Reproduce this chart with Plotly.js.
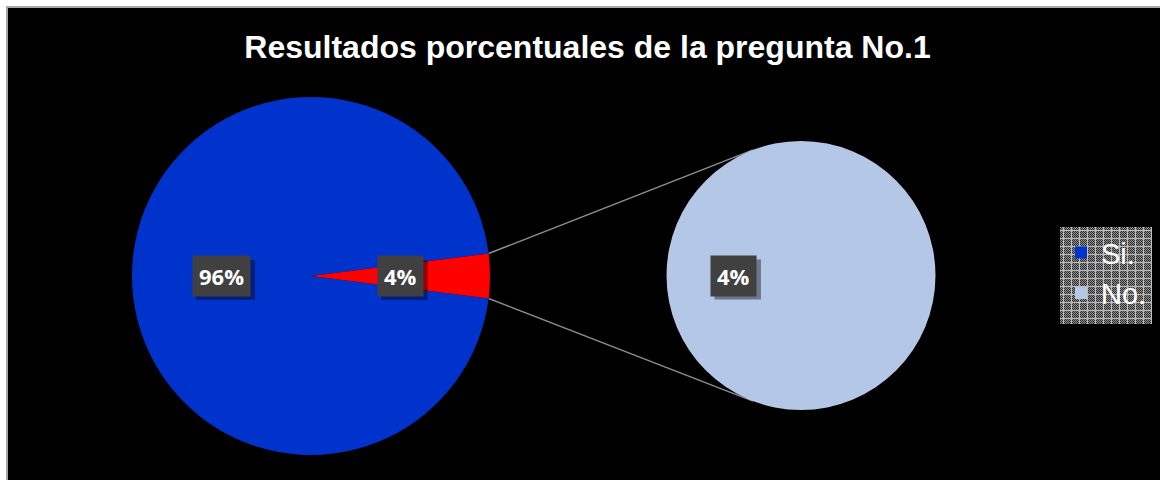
<!DOCTYPE html>
<html>
<head>
<meta charset="utf-8">
<script src="https://cdn.plot.ly/plotly-3.0.1.min.js"></script>
<style>
  html, body { margin: 0; padding: 0; background: #ffffff; }
  #frame { position: absolute; left: 6px; top: 6px; border-left: 2px solid #a6a6a6; border-top: 2px solid #a6a6a6; }
  #chart { width: 1152px; height: 472px; }
</style>
</head>
<body>
<div id="frame"><div id="chart"></div></div>
<script>
// ---- data ----
const categories = ['Si.', 'No.'];
const values = [96, 4];
const secondaryLabels = ['No.'];
const secondaryValues = [4];
const chartTitle = 'Resultados porcentuales de la pregunta No.1';

// ---- geometry (px inside the plot div) ----
const W = 1152, H = 472;
const mainPie = { cx: 303, cy: 268, r: 179 };
const secPie = { cx: 793, cy: 267.5, r: 134.5 };
const colors = ['#0033cc', '#ff0000'];
const secColor = '#b4c7e7';

function domainOf(p) {
  return { x: [(p.cx - p.r) / W, (p.cx + p.r) / W], y: [(H - p.cy - p.r) / H, (H - p.cy + p.r) / H] };
}
const px = x => x / W;
const py = y => (H - y) / H;
function pt(p, angDeg, frac) {
  const a = angDeg * Math.PI / 180;
  return [p.cx + frac * p.r * Math.sin(a), p.cy - frac * p.r * Math.cos(a)];
}

const total = values.reduce((a, b) => a + b, 0);
// centre the split slice ("No.") on 3 o'clock
const splitShare = values[1] / total;
const rotation = 90 + 180 * splitShare;

const sliceAngles = [];
let cum = 0;
values.forEach(v => {
  const a0 = rotation + 360 * cum / total;
  cum += v;
  const a1 = rotation + 360 * cum / total;
  sliceAngles.push([a0, a1, (a0 + a1) / 2]);
});

// secondary pie first so that the legend swatch of "No." takes its colour;
// legend order is reversed so "Si." comes first.
const traces = [
  {
    type: 'pie', labels: secondaryLabels, values: secondaryValues, sort: false,
    domain: domainOf(secPie), textinfo: 'none', hoverinfo: 'label',
    marker: { colors: [secColor], line: { width: 0 } }, showlegend: true
  },
  {
    type: 'pie', labels: categories, values: values, sort: false, direction: 'clockwise',
    rotation: rotation, domain: domainOf(mainPie), textinfo: 'none', hoverinfo: 'label+percent',
    marker: { colors: colors, line: { width: 0 } }, showlegend: true
  }
];

// data labels
const labelFont = { family: 'Open Sans, DejaVu Sans, sans-serif', size: 22, color: '#ffffff', weight: 'bold' };
const annotations = [];
const shapes = [];
const mctx = document.createElement('canvas').getContext('2d');
mctx.font = 'bold 22px "Open Sans"';
const PAD = 6, BOXH = 40;
function addLabel(x, y, text) {
  const w = mctx.measureText(text).width + 2 * PAD + 2;
  shapes.push({ type: 'rect', xref: 'paper', yref: 'paper', layer: 'above',
    x0: px(x - w / 2 + 4), x1: px(x + w / 2 + 4), y0: py(y - BOXH / 2 + 4), y1: py(y + BOXH / 2 + 4),
    fillcolor: 'rgba(0,0,0,0.4)', line: { width: 0 } });
  annotations.push({ xref: 'paper', yref: 'paper', x: px(x), y: py(y), xanchor: 'center', yanchor: 'middle',
    text: text, showarrow: false,
    font: labelFont, bgcolor: '#404040', borderpad: PAD, height: BOXH - 2 * PAD });
}
values.forEach((v, i) => {
  const p = pt(mainPie, sliceAngles[i][2], 0.5);
  addLabel(p[0], p[1], Math.round(100 * v / total) + '%');
});
secondaryValues.forEach(v => {
  const p = pt(secPie, 270, 0.5);
  addLabel(p[0], p[1], Math.round(100 * v / total) + '%');
});

// connector lines from the split slice to the secondary pie
const connectAngle = 20.9;
const mTop = pt(mainPie, sliceAngles[1][0], 1), mBot = pt(mainPie, sliceAngles[1][1], 1);
const sTop = pt(secPie, 360 - connectAngle, 1), sBot = pt(secPie, 180 + connectAngle, 1);
[[mTop, sTop], [mBot, sBot]].forEach(([a, b]) => shapes.push({
  type: 'line', xref: 'paper', yref: 'paper', layer: 'below',
  x0: px(a[0]), y0: py(a[1]), x1: px(b[0]), y1: py(b[1]),
  line: { color: '#8c8c8c', width: 1.5 }
}));

// patterned legend background
const legBox = { x0: 1052, y0: 219, x1: 1144, y1: 316 };
function patternURI(w, h) {
  const c = document.createElement('canvas');
  c.width = w; c.height = h;
  const ctx = c.getContext('2d');
  for (let j = 0; j < h; j++) {
    for (let i = 0; i < w; i++) {
      let col;
      if (i % 8 === 3 || j % 8 === 3) col = '#bdbdbd';
      else col = ((i + j) % 2 === 0) ? '#8c8c8c' : '#303030';
      ctx.fillStyle = col;
      ctx.fillRect(i, j, 1, 1);
    }
  }
  return c.toDataURL('image/png');
}
const images = [{
  source: patternURI(legBox.x1 - legBox.x0, legBox.y1 - legBox.y0),
  xref: 'paper', yref: 'paper', x: px(legBox.x0), y: py(legBox.y0),
  sizex: (legBox.x1 - legBox.x0) / W, sizey: (legBox.y1 - legBox.y0) / H,
  xanchor: 'left', yanchor: 'top', sizing: 'stretch', layer: 'above'
}];

const layout = {
  width: W, height: H,
  margin: { l: 0, r: 0, t: 0, b: 0 },
  paper_bgcolor: '#000000', plot_bgcolor: '#000000',
  title: {
    text: chartTitle, x: 579.5 / W, xanchor: 'center', y: 1 - 39 / H, yanchor: 'middle', yref: 'container',
    font: { family: 'Liberation Sans, Arial, sans-serif', size: 32, color: '#ffffff', weight: 'bold' }
  },
  showlegend: true,
  legend: {
    x: px(1053), xanchor: 'left', y: py(219), yanchor: 'top', traceorder: 'reversed',
    bgcolor: 'rgba(0,0,0,0)', borderwidth: 0,
    font: { family: 'Liberation Sans, Arial, sans-serif', size: 29, color: '#ffffff' }
  },
  annotations: annotations,
  shapes: shapes,
  images: images
};

Plotly.newPlot('chart', traces, layout, { displayModeBar: false, staticPlot: true });
</script>
</body>
</html>
